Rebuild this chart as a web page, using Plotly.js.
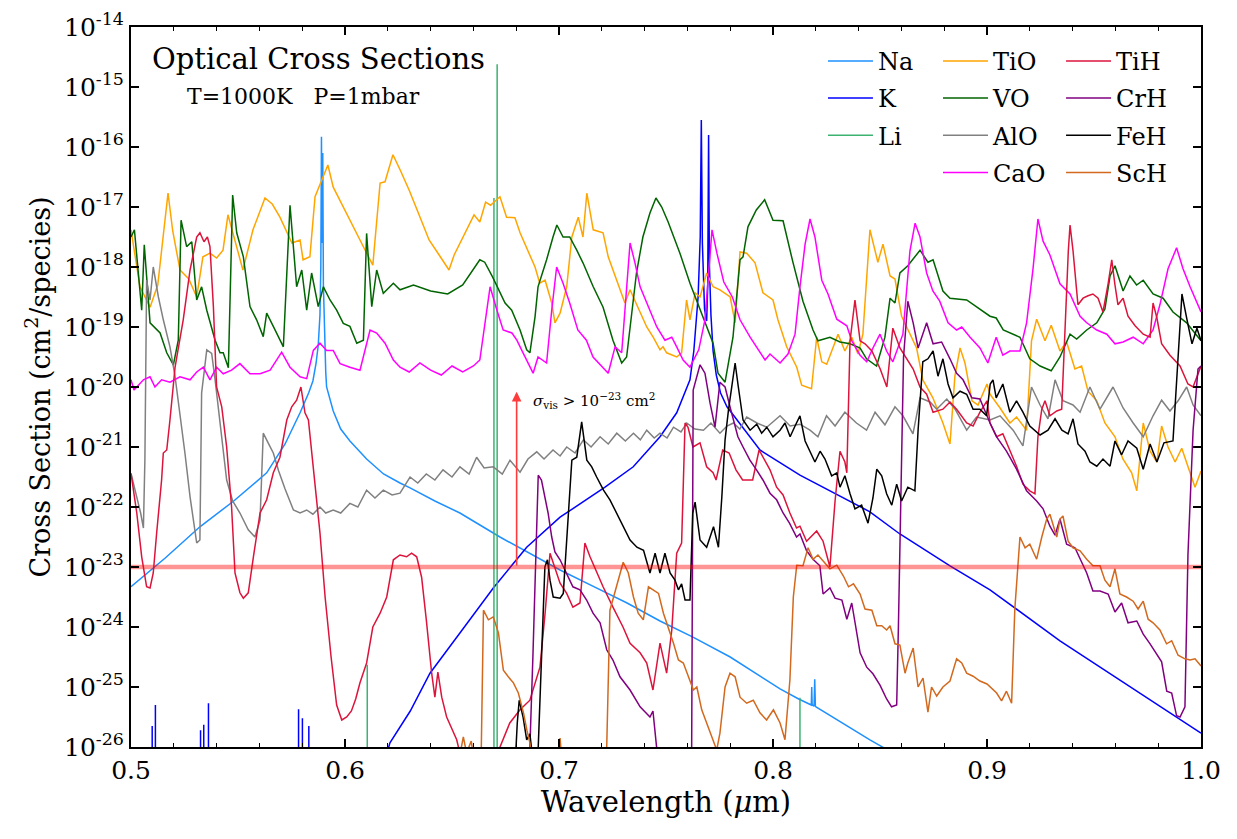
<!DOCTYPE html>
<html>
<head>
<meta charset="utf-8">
<script src="https://cdn.plot.ly/plotly-3.0.1.min.js"></script>
<style>html,body{margin:0;padding:0;background:#fff;}#chart{width:1237px;height:839px;}</style>
</head>
<body>
<div id="chart"></div>
<script>
// ---- Data (wavelength in micron, log10 of cross section in cm^2/species) ----
const Na_profile = [[0.5,-23.33],[0.516,-22.85],[0.5322,-22.33],[0.548,-21.9],[0.5634,-21.43],[0.572,-20.95],[0.579,-20.43],[0.583,-20.1],[0.585,-19.9],[0.5865,-19.6],[0.5875,-19.3],[0.5883,-18.8],[0.5887,-18.0],[0.589,-15.83],[0.5893,-17.6],[0.5896,-16.1],[0.5899,-18.3],[0.5905,-19.3],[0.591,-19.75],[0.5914,-20.0],[0.5945,-20.4],[0.598,-20.7],[0.6023,-20.9],[0.6101,-21.2],[0.618,-21.45],[0.6257,-21.6],[0.6304,-21.68],[0.642,-21.9],[0.6537,-22.1],[0.6724,-22.5],[0.6865,-22.78],[0.7005,-23.05],[0.7165,-23.33],[0.7318,-23.6],[0.7472,-23.9],[0.7626,-24.17],[0.78,-24.5],[0.8033,-25.03],[0.812,-25.2],[0.8175,-25.3],[0.8179,-25.3],[0.8181,-25.0],[0.8183,-25.3],[0.8192,-25.32],[0.8195,-24.87],[0.8198,-25.32],[0.8201,-25.33],[0.8453,-25.88],[0.856,-26.1]];
const K_profile = [[0.618,-26.3],[0.621,-25.93],[0.6305,-25.4],[0.6397,-24.77],[0.6537,-24.1],[0.6693,-23.35],[0.6849,-22.67],[0.7005,-22.17],[0.7215,-21.67],[0.7347,-21.33],[0.7472,-20.83],[0.755,-20.43],[0.7612,-19.88],[0.763,-19.4],[0.765,-18.5],[0.766,-17.5],[0.7665,-15.55],[0.767,-17.6],[0.768,-18.7],[0.769,-18.9],[0.7695,-18.3],[0.7699,-15.8],[0.7703,-18.0],[0.771,-18.8],[0.772,-19.4],[0.7735,-19.8],[0.7755,-20.1],[0.7785,-20.33],[0.7939,-21.05],[0.8126,-21.47],[0.8453,-22.08],[0.8593,-22.45],[0.8827,-22.98],[0.9014,-23.38],[0.9341,-24.23],[0.9668,-25.0],[1.0,-25.77]];
const K_weak_lines = [[0.5099,-25.65],[0.5114,-25.3],[0.5325,-25.72],[0.534,-25.63],[0.5362,-25.27],[0.5783,-25.37],[0.5801,-25.52],[0.5831,-25.65]];
const Li_lines = [[0.6104,-24.63],[0.6696,-16.85],[0.6711,-14.62],[0.8126,-25.18]];

const TiO = [[0.5,-17.38],[0.5042,-18.33],[0.5089,-18.67],[0.5125,-18.3],[0.515,-17.5],[0.5173,-16.77],[0.5195,-17.4],[0.5229,-18.05],[0.527,-18.2],[0.5307,-18.5],[0.5336,-17.83],[0.5369,-17.77],[0.54,-17.85],[0.543,-17.72],[0.5453,-17.13],[0.549,-17.6],[0.5523,-18.05],[0.557,-17.38],[0.5626,-16.85],[0.566,-16.95],[0.5696,-17.17],[0.5752,-17.6],[0.579,-17.55],[0.5804,-17.88],[0.5836,-17.83],[0.586,-16.83],[0.589,-16.55],[0.592,-16.3],[0.5945,-16.67],[0.6008,-17.1],[0.607,-17.55],[0.613,-17.97],[0.6164,-16.6],[0.6187,-16.58],[0.6224,-16.13],[0.626,-16.4],[0.63,-16.72],[0.6346,-17.13],[0.6393,-17.55],[0.644,-17.8],[0.6486,-18.05],[0.651,-17.8],[0.6556,-17.47],[0.6603,-17.13],[0.663,-17.25],[0.6657,-16.92],[0.668,-16.97],[0.6724,-16.83],[0.6755,-17.17],[0.6794,-17.18],[0.6818,-17.43],[0.6855,-17.72],[0.6888,-18.0],[0.691,-18.27],[0.6935,-18.22],[0.6966,-18.6],[0.6981,-18.93],[0.7005,-18.77],[0.7036,-18.33],[0.706,-17.5],[0.709,-17.17],[0.7112,-17.5],[0.713,-16.77],[0.716,-17.38],[0.7206,-17.43],[0.723,-17.83],[0.727,-18.22],[0.7308,-18.6],[0.7332,-18.38],[0.737,-18.67],[0.741,-19.0],[0.744,-19.17],[0.7472,-19.38],[0.7486,-19.33],[0.7503,-19.43],[0.755,-19.5],[0.7573,-19.43],[0.7596,-18.55],[0.7612,-18.88],[0.7636,-18.43],[0.7659,-18.5],[0.769,-18.1],[0.772,-18.33],[0.7752,-18.38],[0.78,-18.5],[0.7823,-18.93],[0.7846,-17.75],[0.7877,-17.77],[0.7916,-17.93],[0.7953,-18.43],[0.8,-18.55],[0.8023,-18.88],[0.8064,-19.33],[0.8111,-19.67],[0.8134,-19.97],[0.818,-20.03],[0.8204,-19.17],[0.8228,-19.58],[0.8251,-19.62],[0.8304,-19.12],[0.8336,-19.4],[0.8368,-19.17],[0.8397,-19.45],[0.842,-19.12],[0.8453,-17.38],[0.849,-17.92],[0.8514,-17.62],[0.8547,-18.15],[0.857,-18.2],[0.8601,-18.82],[0.863,-19.05],[0.8671,-19.35],[0.87,-19.88],[0.8747,-20.18],[0.8794,-20.6],[0.8827,-20.95],[0.885,-19.82],[0.8874,-19.35],[0.8897,-19.6],[0.893,-20.23],[0.8958,-20.3],[0.9,-19.95],[0.9014,-20.12],[0.9061,-20.35],[0.9107,-20.6],[0.9138,-20.5],[0.9185,-20.72],[0.9208,-19.23],[0.9232,-18.87],[0.9271,-19.23],[0.93,-18.97],[0.9341,-19.4],[0.9372,-19.25],[0.9411,-19.7],[0.9442,-19.65],[0.9472,-20.07],[0.9513,-20.23],[0.9551,-20.6],[0.9598,-20.83],[0.9635,-21.2],[0.9676,-21.43],[0.97,-21.73],[0.973,-20.6],[0.9762,-21.07],[0.9794,-21.25],[0.9816,-20.65],[0.9846,-21.0],[0.9879,-21.25],[0.991,-21.02],[0.9939,-21.32],[0.9972,-21.67],[1.0,-21.4]];

const VO = [[0.5,-17.5],[0.5016,-17.38],[0.505,-18.72],[0.5062,-17.63],[0.5089,-18.93],[0.5136,-19.1],[0.5167,-19.43],[0.5198,-19.63],[0.5221,-19.22],[0.5234,-17.22],[0.526,-17.66],[0.5284,-17.58],[0.5307,-18.55],[0.533,-18.33],[0.5354,-18.72],[0.5393,-19.22],[0.5416,-19.43],[0.5431,-19.43],[0.5455,-19.68],[0.5475,-16.8],[0.5494,-17.43],[0.5525,-17.83],[0.5556,-18.66],[0.5587,-18.88],[0.5618,-19.16],[0.5634,-18.77],[0.5665,-18.99],[0.5712,-19.33],[0.5743,-16.97],[0.5774,-18.33],[0.5798,-18.05],[0.5821,-18.72],[0.5844,-18.1],[0.5875,-18.66],[0.5899,-18.33],[0.593,-18.55],[0.5961,-18.72],[0.5992,-18.94],[0.6023,-18.99],[0.6055,-19.27],[0.6086,-19.22],[0.6101,-17.44],[0.6125,-18.66],[0.6148,-18.05],[0.6179,-18.44],[0.6226,-18.27],[0.6257,-18.38],[0.632,-18.3],[0.64,-18.4],[0.648,-18.45],[0.655,-18.3],[0.663,-17.88],[0.6653,-17.92],[0.669,-18.17],[0.6748,-18.6],[0.6779,-18.72],[0.6818,-19.05],[0.6849,-19.38],[0.6864,-19.43],[0.6888,-18.83],[0.6902,-18.33],[0.6942,-17.88],[0.6972,-17.5],[0.699,-17.3],[0.7019,-17.5],[0.705,-17.5],[0.7083,-17.72],[0.7112,-17.93],[0.716,-18.33],[0.7206,-18.67],[0.7252,-19.22],[0.7293,-19.6],[0.7316,-19.5],[0.7339,-18.77],[0.7362,-18.1],[0.7392,-17.5],[0.7425,-17.1],[0.7453,-16.85],[0.748,-17.0],[0.751,-17.25],[0.7565,-17.77],[0.7612,-18.27],[0.7659,-18.72],[0.772,-19.27],[0.7743,-19.77],[0.7776,-19.92],[0.7813,-19.17],[0.7846,-17.88],[0.786,-17.83],[0.7883,-17.33],[0.7922,-17.05],[0.7961,-16.88],[0.8,-17.22],[0.8047,-17.23],[0.8093,-17.92],[0.814,-18.57],[0.8187,-19.05],[0.821,-19.23],[0.8266,-19.17],[0.8313,-19.25],[0.836,-19.28],[0.8407,-19.35],[0.8437,-19.53],[0.8484,-19.65],[0.8523,-19.17],[0.8547,-18.52],[0.857,-18.6],[0.8593,-18.1],[0.863,-17.98],[0.8687,-17.72],[0.8724,-17.92],[0.8748,-17.88],[0.8794,-18.4],[0.8827,-18.52],[0.8905,-18.55],[0.8967,-18.7],[0.9014,-18.82],[0.9043,-18.85],[0.9076,-19.05],[0.9154,-19.17],[0.92,-19.53],[0.9248,-19.65],[0.93,-19.73],[0.9341,-19.5],[0.9388,-19.12],[0.9419,-19.2],[0.9466,-19.05],[0.9513,-18.93],[0.9551,-18.7],[0.9575,-18.15],[0.9598,-17.98],[0.9636,-18.4],[0.9668,-18.15],[0.9699,-18.3],[0.973,-18.22],[0.9776,-18.45],[0.9823,-18.52],[0.9869,-18.75],[0.9933,-18.93],[1.0,-19.23]];

const AlO = [[0.5,-21.44],[0.5025,-21.8],[0.5045,-22.1],[0.5058,-22.35],[0.5065,-21.2],[0.5073,-18.22],[0.5089,-18.55],[0.5104,-18.0],[0.5128,-18.5],[0.5151,-18.88],[0.5182,-19.33],[0.5205,-19.8],[0.5229,-20.43],[0.5252,-21.1],[0.5276,-21.83],[0.5307,-22.6],[0.5322,-22.55],[0.533,-20.1],[0.5354,-19.38],[0.5377,-19.44],[0.5393,-19.88],[0.542,-20.7],[0.5447,-21.55],[0.5475,-21.9],[0.5509,-22.1],[0.5548,-22.38],[0.5579,-22.5],[0.5603,-22.22],[0.5618,-20.77],[0.5642,-20.94],[0.5665,-21.1],[0.569,-21.4],[0.572,-21.7],[0.5759,-22.05],[0.579,-22.1],[0.5821,-22.05],[0.585,-22.12],[0.5883,-22.0],[0.591,-22.1],[0.5945,-22.05],[0.598,-22.1],[0.6023,-21.94],[0.606,-22.0],[0.6101,-21.72],[0.614,-21.85],[0.6179,-21.72],[0.622,-21.8],[0.6257,-21.77],[0.6304,-21.5],[0.634,-21.6],[0.638,-21.45],[0.642,-21.55],[0.6458,-21.38],[0.65,-21.5],[0.6537,-21.33],[0.658,-21.45],[0.6615,-21.17],[0.665,-21.35],[0.6693,-21.33],[0.6735,-21.45],[0.6771,-21.22],[0.6818,-21.42],[0.6855,-21.2],[0.6896,-21.08],[0.693,-21.2],[0.6972,-21.05],[0.7005,-21.15],[0.7036,-21.0],[0.7075,-21.1],[0.7114,-20.88],[0.715,-21.0],[0.7192,-20.83],[0.723,-20.95],[0.727,-20.77],[0.731,-20.9],[0.7348,-20.77],[0.738,-20.88],[0.741,-20.72],[0.7445,-20.85],[0.7472,-20.77],[0.7505,-20.85],[0.7535,-20.67],[0.757,-20.75],[0.7597,-20.6],[0.7635,-20.7],[0.7675,-20.72],[0.771,-20.6],[0.7752,-20.77],[0.7785,-20.65],[0.7815,-20.6],[0.7845,-20.7],[0.7877,-20.5],[0.7925,-20.6],[0.7971,-20.67],[0.8033,-20.48],[0.808,-20.65],[0.8126,-20.62],[0.8173,-20.72],[0.821,-20.83],[0.825,-20.48],[0.829,-20.65],[0.8336,-20.42],[0.839,-20.6],[0.8437,-20.72],[0.8477,-20.42],[0.8523,-20.63],[0.857,-20.33],[0.8607,-20.48],[0.8654,-20.78],[0.8687,-20.18],[0.8734,-20.25],[0.8765,-20.37],[0.8812,-20.2],[0.8851,-20.37],[0.8905,-20.72],[0.8951,-20.5],[0.9014,-20.55],[0.9061,-20.48],[0.9122,-20.72],[0.9168,-20.98],[0.9208,-20.0],[0.9248,-20.3],[0.9285,-20.53],[0.9318,-19.88],[0.9355,-20.23],[0.9402,-20.3],[0.9435,-20.42],[0.9481,-20.0],[0.9528,-20.37],[0.9589,-20.0],[0.9636,-20.35],[0.9683,-20.6],[0.973,-20.83],[0.9776,-20.48],[0.9816,-20.22],[0.9855,-20.4],[0.9893,-20.23],[0.9933,-20.0],[0.9963,-20.3],[1.0,-20.48]];

const CaO = [[0.5,-19.88],[0.5014,-20.05],[0.5058,-19.88],[0.5089,-19.83],[0.5112,-20.0],[0.5143,-19.88],[0.5182,-19.92],[0.5229,-19.83],[0.5276,-19.88],[0.5307,-19.75],[0.5338,-19.67],[0.5369,-19.88],[0.54,-19.67],[0.5431,-19.78],[0.547,-19.72],[0.5509,-19.61],[0.5556,-19.78],[0.5603,-19.78],[0.565,-19.72],[0.5704,-19.42],[0.5743,-19.67],[0.579,-19.83],[0.5821,-19.86],[0.5852,-19.39],[0.5883,-19.27],[0.5914,-19.39],[0.5945,-19.39],[0.5977,-19.61],[0.6023,-19.67],[0.607,-19.72],[0.6117,-19.05],[0.6148,-19.1],[0.6187,-19.27],[0.6226,-19.55],[0.6257,-19.67],[0.63,-19.75],[0.635,-19.6],[0.64,-19.72],[0.645,-19.8],[0.65,-19.65],[0.655,-19.75],[0.66,-19.65],[0.663,-19.55],[0.6678,-18.33],[0.671,-18.72],[0.6739,-19.05],[0.678,-19.1],[0.6803,-19.22],[0.6832,-19.43],[0.6879,-19.77],[0.6902,-19.5],[0.6942,-19.6],[0.6966,-18.72],[0.6989,-18.0],[0.7019,-18.27],[0.705,-18.6],[0.7088,-19.05],[0.7128,-19.22],[0.7159,-19.5],[0.7206,-19.67],[0.723,-19.77],[0.7262,-19.33],[0.7293,-19.43],[0.7332,-17.6],[0.7355,-17.93],[0.7379,-18.33],[0.741,-18.6],[0.7457,-19.0],[0.7495,-19.22],[0.7527,-19.17],[0.755,-19.33],[0.758,-19.55],[0.7612,-19.67],[0.7653,-19.38],[0.7682,-18.88],[0.7715,-17.38],[0.7738,-17.77],[0.777,-18.25],[0.781,-18.5],[0.7846,-18.88],[0.7893,-19.17],[0.7933,-19.38],[0.7963,-19.55],[0.7986,-19.45],[0.8033,-19.6],[0.807,-19.45],[0.8103,-19.12],[0.8126,-18.33],[0.815,-17.62],[0.8173,-17.2],[0.8196,-17.5],[0.8228,-18.22],[0.8257,-18.45],[0.8298,-18.87],[0.8345,-18.98],[0.8368,-19.23],[0.8407,-19.47],[0.8438,-19.58],[0.8467,-19.35],[0.85,-19.12],[0.8531,-19.4],[0.856,-19.58],[0.8607,-19.12],[0.864,-17.73],[0.8664,-17.27],[0.8687,-17.5],[0.8718,-18.1],[0.8747,-18.4],[0.8779,-18.57],[0.8818,-18.93],[0.8858,-19.05],[0.8882,-19.0],[0.8921,-19.17],[0.8967,-19.35],[0.9004,-19.6],[0.9043,-19.17],[0.9074,-19.47],[0.9107,-19.4],[0.9154,-19.4],[0.9185,-18.93],[0.9215,-18.03],[0.9238,-17.2],[0.9262,-17.57],[0.9294,-17.8],[0.9341,-18.28],[0.9388,-18.45],[0.9435,-18.82],[0.9466,-18.93],[0.9513,-19.05],[0.956,-19.12],[0.9598,-19.28],[0.9636,-19.25],[0.9683,-19.17],[0.973,-19.28],[0.9776,-19.05],[0.9808,-18.63],[0.9846,-18.03],[0.9886,-17.68],[0.9916,-18.03],[0.9949,-18.33],[1.0,-18.75]];

const TiH = [[0.5,-21.44],[0.5027,-22.1],[0.505,-22.83],[0.5073,-23.33],[0.5089,-23.35],[0.5104,-23.1],[0.512,-22.43],[0.5143,-21.55],[0.5151,-21.1],[0.5167,-21.05],[0.5182,-20.55],[0.5206,-19.67],[0.5244,-18.88],[0.5276,-18.05],[0.5307,-17.5],[0.5322,-17.43],[0.5341,-17.58],[0.5357,-17.5],[0.5369,-17.66],[0.5385,-18.66],[0.54,-20.0],[0.5424,-20.33],[0.5447,-21.0],[0.547,-22.0],[0.5486,-23.1],[0.5509,-23.43],[0.5525,-23.52],[0.5548,-23.43],[0.5572,-22.83],[0.5603,-22.1],[0.5634,-21.88],[0.5665,-21.43],[0.5696,-21.17],[0.5728,-20.55],[0.5751,-20.33],[0.5774,-20.22],[0.5794,-20.0],[0.5813,-20.43],[0.5829,-20.55],[0.5844,-21.1],[0.5868,-21.88],[0.5883,-22.43],[0.5907,-23.5],[0.5935,-24.5],[0.5961,-25.3],[0.5985,-25.55],[0.6008,-25.5],[0.603,-25.4],[0.605,-25.2],[0.607,-24.93],[0.6101,-24.6],[0.613,-24.0],[0.6164,-23.77],[0.6195,-23.5],[0.6226,-22.88],[0.6257,-22.8],[0.6288,-22.83],[0.6311,-22.77],[0.6335,-22.83],[0.6358,-23.17],[0.638,-23.88],[0.6405,-24.77],[0.642,-25.17],[0.6434,-24.75],[0.6452,-25.17],[0.6475,-25.5],[0.6522,-25.88],[0.655,-26.3],[0.669,-26.3],[0.6724,-26.0],[0.677,-25.6],[0.6818,-25.38],[0.6864,-25.22],[0.6911,-24.67],[0.6935,-23.77],[0.6958,-22.77],[0.6981,-23.0],[0.7005,-23.27],[0.7036,-23.44],[0.7065,-23.67],[0.7098,-23.6],[0.7121,-22.6],[0.7145,-22.83],[0.7176,-23.1],[0.7206,-23.33],[0.7252,-23.67],[0.7299,-24.0],[0.7332,-24.27],[0.7379,-24.43],[0.741,-24.6],[0.7439,-25.05],[0.7472,-24.27],[0.7503,-24.77],[0.7527,-24.05],[0.755,-22.77],[0.7573,-22.6],[0.7589,-20.6],[0.7603,-20.67],[0.7626,-21.0],[0.7659,-20.93],[0.769,-21.33],[0.772,-21.43],[0.7734,-21.55],[0.7765,-21.05],[0.7795,-21.1],[0.7827,-21.38],[0.7858,-21.55],[0.7905,-21.55],[0.7935,-21.05],[0.7986,-21.38],[0.8017,-21.67],[0.8047,-21.8],[0.8079,-22.1],[0.811,-22.35],[0.8126,-22.32],[0.8157,-22.57],[0.8187,-22.45],[0.8204,-22.4],[0.8234,-22.57],[0.8266,-23.0],[0.829,-21.9],[0.8313,-21.07],[0.8336,-21.25],[0.8345,-21.43],[0.836,-19.23],[0.8383,-18.55],[0.8407,-19.23],[0.843,-19.28],[0.8462,-19.4],[0.8501,-19.7],[0.8532,-20.0],[0.856,-19.02],[0.8593,-19.35],[0.8625,-19.53],[0.8655,-19.7],[0.8687,-20.0],[0.8718,-20.12],[0.8748,-20.42],[0.8794,-20.37],[0.8827,-20.25],[0.8858,-20.37],[0.8905,-20.6],[0.8935,-20.65],[0.8967,-20.42],[0.9,-20.23],[0.9014,-20.6],[0.9045,-20.83],[0.9074,-20.78],[0.9107,-21.07],[0.9138,-21.32],[0.9168,-21.62],[0.92,-21.73],[0.9224,-21.78],[0.9238,-20.83],[0.9256,-20.37],[0.9271,-20.23],[0.9294,-20.48],[0.9326,-20.4],[0.9349,-20.37],[0.9365,-18.93],[0.938,-17.73],[0.9388,-17.3],[0.9402,-17.73],[0.9425,-18.63],[0.9449,-18.52],[0.9472,-18.48],[0.9495,-18.45],[0.9519,-18.52],[0.9542,-18.75],[0.9566,-18.28],[0.9583,-17.88],[0.9598,-18.3],[0.9612,-18.63],[0.9636,-18.52],[0.9659,-18.82],[0.9692,-18.98],[0.973,-19.12],[0.9762,-19.17],[0.9776,-18.6],[0.9794,-18.85],[0.9816,-19.28],[0.9855,-19.47],[0.9902,-19.65],[0.9939,-19.95],[0.9963,-20.0],[1.0,-19.65]];

const CrH = [[0.6855,-26.3],[0.6864,-26.0],[0.6878,-24.5],[0.6888,-23.22],[0.6903,-21.47],[0.6918,-21.55],[0.6935,-21.88],[0.6949,-22.1],[0.6966,-22.5],[0.6981,-22.75],[0.7005,-22.88],[0.7036,-23.1],[0.7065,-23.33],[0.7098,-23.38],[0.7129,-23.55],[0.7159,-23.77],[0.7192,-23.93],[0.7223,-24.38],[0.7252,-24.55],[0.7285,-24.83],[0.7332,-25.05],[0.7379,-25.33],[0.7425,-25.5],[0.7439,-25.4],[0.7456,-26.0],[0.748,-26.3],[0.7605,-26.3],[0.762,-26.0],[0.7627,-20.05],[0.7659,-19.63],[0.7682,-19.77],[0.7706,-20.27],[0.7729,-20.67],[0.7752,-19.92],[0.7776,-20.0],[0.7799,-20.33],[0.7836,-20.83],[0.786,-21.0],[0.7892,-21.22],[0.7923,-21.38],[0.7953,-21.55],[0.7986,-21.77],[0.8017,-21.88],[0.8047,-22.1],[0.8077,-22.27],[0.811,-22.5],[0.8126,-22.45],[0.8157,-22.73],[0.8187,-22.87],[0.8219,-22.98],[0.8234,-23.45],[0.8266,-23.35],[0.829,-23.52],[0.8322,-23.55],[0.8345,-23.87],[0.8368,-23.6],[0.8407,-24.43],[0.8438,-24.67],[0.8467,-24.78],[0.85,-24.97],[0.8531,-25.2],[0.8554,-25.33],[0.8578,-25.3],[0.8586,-24.0],[0.8601,-21.0],[0.861,-19.5],[0.863,-18.57],[0.8655,-18.93],[0.8678,-19.35],[0.8718,-18.93],[0.8748,-19.28],[0.8788,-19.25],[0.8827,-19.53],[0.8858,-19.77],[0.8888,-19.88],[0.8929,-20.18],[0.8967,-20.2],[0.9014,-20.6],[0.9045,-20.83],[0.9091,-21.07],[0.9138,-21.37],[0.9185,-21.73],[0.9232,-21.9],[0.9262,-22.03],[0.9294,-22.32],[0.9318,-22.47],[0.9341,-22.2],[0.9372,-22.62],[0.9411,-22.68],[0.9435,-22.87],[0.9466,-23.1],[0.9495,-23.4],[0.9528,-23.4],[0.9566,-23.45],[0.9598,-23.75],[0.9629,-23.6],[0.9659,-23.93],[0.97,-23.9],[0.973,-24.12],[0.9762,-24.28],[0.9794,-24.47],[0.9816,-24.58],[0.984,-25.07],[0.9863,-25.1],[0.9886,-25.48],[0.9902,-25.5],[0.9925,-25.33],[0.9939,-22.8],[0.9963,-20.72],[0.9986,-19.7],[1.0,-19.65]];

const FeH = [[0.6795,-26.3],[0.6805,-25.6],[0.6814,-25.22],[0.6832,-25.5],[0.6849,-25.88],[0.6864,-25.78],[0.688,-26.3],[0.6895,-26.3],[0.6903,-26.0],[0.6918,-24.43],[0.6934,-23.0],[0.6946,-22.88],[0.6958,-23.22],[0.6973,-23.5],[0.7005,-23.52],[0.702,-23.44],[0.7044,-22.1],[0.706,-21.22],[0.7083,-21.17],[0.7106,-20.58],[0.713,-21.22],[0.7153,-21.33],[0.7176,-21.5],[0.7208,-21.72],[0.7238,-21.88],[0.727,-22.1],[0.7301,-22.33],[0.7332,-22.55],[0.7364,-22.67],[0.7395,-22.72],[0.7425,-23.1],[0.7449,-22.77],[0.7472,-23.1],[0.7495,-22.77],[0.7519,-23.1],[0.7542,-23.22],[0.7558,-23.38],[0.7573,-23.28],[0.7589,-23.55],[0.7612,-23.55],[0.7625,-22.1],[0.7636,-21.92],[0.7659,-22.55],[0.769,-22.67],[0.7722,-22.33],[0.7745,-22.67],[0.7761,-21.83],[0.7776,-20.88],[0.7792,-20.38],[0.7806,-20.05],[0.7823,-19.6],[0.7838,-20.0],[0.786,-20.55],[0.7893,-20.72],[0.7924,-20.62],[0.7947,-20.77],[0.7971,-20.67],[0.8,-20.83],[0.8033,-20.72],[0.8056,-20.6],[0.808,-20.83],[0.8103,-20.65],[0.8126,-20.48],[0.815,-20.9],[0.8173,-21.07],[0.8196,-21.25],[0.822,-21.07],[0.8243,-21.2],[0.8274,-21.48],[0.8298,-21.43],[0.8313,-21.67],[0.8336,-21.48],[0.836,-21.78],[0.8383,-22.03],[0.8414,-21.97],[0.8444,-22.27],[0.8467,-21.85],[0.8485,-21.37],[0.8508,-21.48],[0.8531,-21.78],[0.8555,-21.97],[0.8578,-21.62],[0.8601,-21.9],[0.863,-21.67],[0.8663,-21.73],[0.8678,-20.72],[0.87,-19.58],[0.8724,-19.53],[0.8748,-19.4],[0.8771,-19.82],[0.8794,-19.53],[0.8818,-19.95],[0.8841,-20.18],[0.8874,-20.07],[0.8905,-20.12],[0.8935,-20.37],[0.8967,-20.37],[0.8998,-20.48],[0.9015,-19.95],[0.9028,-19.88],[0.9043,-20.18],[0.9074,-19.95],[0.9107,-20.42],[0.9138,-20.23],[0.9168,-20.42],[0.92,-20.65],[0.9248,-20.8],[0.9285,-20.72],[0.9318,-20.53],[0.935,-20.72],[0.9379,-20.78],[0.9402,-20.53],[0.9425,-20.95],[0.9458,-21.07],[0.9481,-21.25],[0.9513,-21.32],[0.9542,-21.2],[0.9575,-21.32],[0.9598,-20.9],[0.9629,-21.13],[0.9659,-20.9],[0.97,-21.02],[0.973,-21.37],[0.9762,-20.95],[0.9794,-21.25],[0.9827,-20.93],[0.9869,-20.9],[0.9891,-19.53],[0.9911,-18.45],[0.9934,-18.87],[0.9958,-19.28],[0.9981,-19.02],[1.0,-19.23]];

const ScH = [[0.6528,-26.3],[0.6553,-25.83],[0.6568,-26.1],[0.659,-25.9],[0.6606,-26.3],[0.6625,-26.3],[0.6637,-26.0],[0.6647,-23.72],[0.667,-23.88],[0.6693,-23.83],[0.6717,-24.1],[0.674,-24.72],[0.6763,-24.83],[0.6787,-24.93],[0.681,-25.1],[0.6834,-25.43],[0.685,-25.72],[0.6864,-25.93],[0.6878,-26.3],[0.6995,-26.3],[0.7005,-25.85],[0.7015,-26.3],[0.7215,-26.3],[0.7223,-26.0],[0.7238,-23.72],[0.727,-23.33],[0.73,-22.92],[0.7324,-23.1],[0.7348,-23.5],[0.737,-23.77],[0.7394,-23.88],[0.7418,-23.33],[0.744,-23.38],[0.7465,-23.44],[0.7488,-23.77],[0.7511,-24.0],[0.7535,-24.27],[0.7558,-24.55],[0.7581,-24.6],[0.7605,-24.83],[0.7628,-25.05],[0.7644,-25.0],[0.7667,-25.38],[0.769,-25.6],[0.7714,-25.83],[0.7737,-26.05],[0.7752,-25.77],[0.7776,-25.0],[0.7799,-24.77],[0.7823,-24.83],[0.7846,-25.17],[0.7877,-25.27],[0.7908,-25.22],[0.7939,-25.43],[0.797,-25.55],[0.8002,-25.38],[0.8033,-25.6],[0.8056,-25.88],[0.8079,-24.88],[0.8095,-23.5],[0.8111,-22.97],[0.814,-22.98],[0.8164,-22.68],[0.8187,-22.87],[0.821,-22.8],[0.8234,-22.9],[0.8266,-23.03],[0.8298,-22.97],[0.8329,-23.15],[0.8353,-23.33],[0.8376,-23.28],[0.8407,-23.45],[0.843,-23.7],[0.8462,-23.72],[0.8485,-23.98],[0.8508,-23.98],[0.8531,-24.05],[0.8547,-23.98],[0.857,-24.28],[0.8593,-24.3],[0.8617,-24.77],[0.863,-24.6],[0.8655,-24.35],[0.8678,-25.0],[0.8701,-24.85],[0.8724,-25.42],[0.8741,-25.0],[0.8765,-25.15],[0.8794,-25.0],[0.8827,-24.9],[0.8858,-24.53],[0.8882,-24.6],[0.8905,-24.77],[0.8935,-24.82],[0.8967,-24.9],[0.9,-24.95],[0.9014,-25.0],[0.9045,-25.1],[0.9068,-25.23],[0.9091,-25.07],[0.9115,-25.27],[0.913,-23.7],[0.9154,-22.5],[0.9178,-22.68],[0.92,-22.62],[0.9232,-22.87],[0.9256,-22.5],[0.9279,-22.2],[0.9294,-22.12],[0.9308,-22.27],[0.9326,-22.5],[0.9341,-22.2],[0.9355,-22.15],[0.9379,-22.57],[0.9402,-22.68],[0.9435,-22.73],[0.9466,-22.87],[0.9495,-22.98],[0.9528,-22.98],[0.9551,-23.22],[0.9575,-23.33],[0.9598,-23.03],[0.9621,-23.45],[0.9652,-23.5],[0.9683,-23.57],[0.9706,-23.7],[0.973,-23.57],[0.9753,-23.87],[0.9776,-23.93],[0.9808,-24.05],[0.9839,-24.28],[0.9863,-24.23],[0.9893,-24.47],[0.9925,-24.53],[0.9949,-24.55],[0.9972,-24.53],[1.0,-24.65]];

const threshold = 1e-23;
const xTickVals = [0.5, 0.6, 0.7, 0.8, 0.9, 1.0];
const xTickText = ['0.5', '0.6', '0.7', '0.8', '0.9', '1.0'];
const yExponents = [-26, -25, -24, -23, -22, -21, -20, -19, -18, -17, -16, -15, -14];

// ---- Build traces ----
const pow10 = v => Math.pow(10, v);
function profile(pairs) { return { x: pairs.map(p => p[0]), y: pairs.map(p => pow10(p[1])) }; }
function sticks(pairs) {
  const x = [], y = [];
  pairs.forEach(p => { x.push(p[0], p[0], null); y.push(1e-30, pow10(p[1]), null); });
  return { x, y };
}
function line(name, d, color, legend) {
  return { type: 'scatter', mode: 'lines', name: name, x: d.x, y: d.y,
    line: { color: color, width: 1.5 }, legend: legend, legendgroup: name, hoverinfo: 'x+y+name' };
}
const naD = profile(Na_profile);
const kP = profile(K_profile), kS = sticks(K_weak_lines);
const kD = { x: kP.x.concat([null], kS.x), y: kP.y.concat([null], kS.y) };

const traces = [
  line('Na', naD, '#1e90ff', 'legend'),
  line('K', kD, '#0000ff', 'legend'),
  line('Li', sticks(Li_lines), '#3cb371', 'legend'),
  line('TiO', profile(TiO), '#ffa500', 'legend2'),
  line('VO', profile(VO), '#006400', 'legend2'),
  line('AlO', profile(AlO), '#808080', 'legend2'),
  line('CaO', profile(CaO), '#ff00ff', 'legend2'),
  line('TiH', profile(TiH), '#dc143c', 'legend3'),
  line('CrH', profile(CrH), '#800080', 'legend3'),
  line('FeH', profile(FeH), '#000000', 'legend3'),
  line('ScH', profile(ScH), '#d2691e', 'legend3'),
  { type: 'scatter', mode: 'lines', x: [0.5, 1.0], y: [threshold, threshold], showlegend: false,
    hoverinfo: 'skip', line: { color: 'rgba(255,0,0,0.42)', width: 4.5 } }
];

const legendBase = { xanchor: 'left', yanchor: 'top', y: 0.9836, bgcolor: 'rgba(0,0,0,0)', borderwidth: 0,
  font: { size: 24, family: 'DejaVu Serif, serif', color: '#000' }, itemwidth: 45,
  traceorder: 'grouped', tracegroupgap: 3 };

const layout = {
  width: 1237, height: 839,
  margin: { l: 131, r: 36, t: 27, b: 92, pad: 0 },
  paper_bgcolor: '#fff', plot_bgcolor: '#fff',
  font: { family: 'DejaVu Serif, serif', color: '#000' },
  showlegend: true,
  legend: Object.assign({}, legendBase, { x: 0.6467 }),
  legend2: Object.assign({}, legendBase, { x: 0.7542 }),
  legend3: Object.assign({}, legendBase, { x: 0.8692 }),
  xaxis: {
    range: [0.5, 1.0], tickmode: 'array', tickvals: xTickVals, ticktext: xTickText,
    ticks: 'inside', ticklen: 8, tickwidth: 1.5, tickcolor: '#000',
    minor: { dtick: 0.02, tick0: 0.5, ticks: 'inside', ticklen: 4, tickwidth: 1, tickcolor: '#000', showgrid: false },
    showline: true, linewidth: 2, linecolor: '#000', mirror: 'ticks',
    showgrid: false, zeroline: false, tickfont: { size: 25 },
    title: { text: 'Wavelength (<i>μ</i>m)', font: { size: 29 }, standoff: 8 }
  },
  yaxis: {
    type: 'log', range: [-26, -14], tickmode: 'array',
    tickvals: yExponents.map(pow10), ticktext: yExponents.map(e => '10<sup>' + e + '</sup>'),
    ticks: 'inside', ticklen: 8, tickwidth: 1.5, tickcolor: '#000',
    showline: true, linewidth: 2, linecolor: '#000', mirror: 'ticks',
    showgrid: false, zeroline: false, tickfont: { size: 25 },
    title: { text: 'Cross Section (cm<sup>2</sup>/species)', font: { size: 27 }, standoff: 6 }
  },
  annotations: [
    { xref: 'paper', yref: 'paper', x: 0.0178, y: 0.956, xanchor: 'left', yanchor: 'middle', showarrow: false,
      text: 'Optical Cross Sections', font: { size: 29 } },
    { xref: 'paper', yref: 'paper', x: 0.0505, y: 0.903, xanchor: 'left', yanchor: 'middle', showarrow: false,
      text: 'T=1000K\u00a0\u00a0\u00a0P=1mbar', font: { size: 22 } },
    { xref: 'x', yref: 'y', x: 0.6802, y: -20.08, axref: 'x', ayref: 'y', ax: 0.6802, ay: -23,
      showarrow: true, arrowhead: 2, arrowsize: 1.2, arrowwidth: 1.6, arrowcolor: '#ff3b3b', text: '' },
    { xref: 'x', yref: 'y', x: 0.6868, y: -20.22, xanchor: 'left', yanchor: 'middle', showarrow: false,
      text: '<i>σ</i><sub>vis</sub> &gt; 10<sup>−23</sup> cm<sup>2</sup>', font: { size: 15 } }
  ]
};

Plotly.newPlot('chart', traces, layout, { displayModeBar: false, staticPlot: true });
</script>
</body>
</html>
